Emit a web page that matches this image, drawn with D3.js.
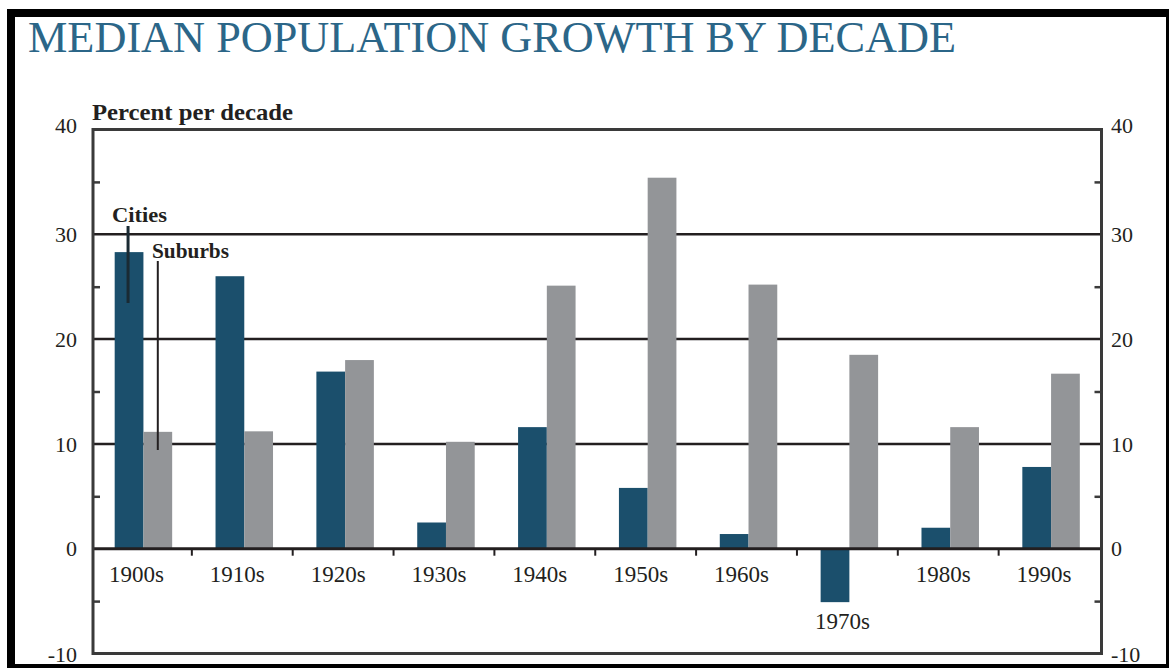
<!DOCTYPE html>
<html>
<head>
<meta charset="utf-8">
<script src="https://cdn.jsdelivr.net/npm/d3@7"></script>
<style>
  body { margin: 0; background: #fff; }
  svg text { font-family: "Liberation Serif", "DejaVu Serif", serif; }
</style>
</head>
<body>
<div id="chart"></div>
<script>
var decades  = ["1900s", "1910s", "1920s", "1930s", "1940s", "1950s", "1960s", "1970s", "1980s", "1990s"];
var cities   = [28.3, 26.0, 16.9, 2.5, 11.6, 5.8, 1.4, -5.1, 2.0, 7.8];
var suburbs  = [11.15, 11.2, 18.0, 10.2, 25.1, 35.4, 25.2, 18.5, 11.6, 16.7];
var yTicks   = [-10, 0, 10, 20, 30, 40];
var minorTicks = [-5, 5, 15, 25, 35];
var gridVals = [10, 20, 30];

var W = 1169, H = 668;
var teal = "#1b4f6c", grey = "#939598", ink = "#231f20";

var svg = d3.select("#chart")
  .append("svg")
    .attr("width", W)
    .attr("height", H);

// black frame round the whole picture
svg.append("rect").attr("x", 7).attr("y", 9).attr("width", W - 7).attr("height", H - 9).attr("fill", "#000");
svg.append("rect").attr("x", 15).attr("y", 17).attr("width", 1151).attr("height", 647).attr("fill", "#fff");

svg.append("text")
  .attr("x", 28).attr("y", 52)
  .attr("font-size", 45)
  .attr("textLength", 928)
  .attr("lengthAdjust", "spacingAndGlyphs")
  .attr("fill", "#2b6688")
  .text("MEDIAN POPULATION GROWTH BY DECADE");

var left = 93, right = 1101.5;

var x = d3.scaleBand()
  .domain(decades)
  .range([left, right])
  .paddingInner(0.43)
  .paddingOuter(0.215);

var x1 = d3.scaleBand()
  .domain(["Cities", "Suburbs"])
  .range([0, x.bandwidth()]);

var y = d3.scaleLinear()
  .domain([-10, 40])
  .range([653.5, 129.5]);

// gridlines behind bars
svg.selectAll(".grid")
  .data(gridVals)
  .enter().append("line")
    .attr("x1", left).attr("x2", right)
    .attr("y1", d => y(d)).attr("y2", d => y(d))
    .attr("stroke", ink)
    .attr("stroke-width", 2.5);

var rows = decades.map((d, i) => ({decade: d, Cities: cities[i], Suburbs: suburbs[i]}));

var groups = svg.selectAll(".grp")
  .data(rows)
  .enter().append("g")
    .attr("transform", d => "translate(" + x(d.decade) + ",0)");

groups.selectAll("rect")
  .data(d => ["Cities", "Suburbs"].map(k => ({key: k, value: d[k]})))
  .enter().append("rect")
    .attr("x", d => x1(d.key))
    .attr("width", x1.bandwidth())
    .attr("y", d => y(Math.max(0, d.value)))
    .attr("height", d => Math.abs(y(d.value) - y(0)))
    .attr("fill", d => d.key == "Cities" ? teal : grey);

// zero line and ticks between the decades
svg.append("line")
  .attr("x1", left).attr("x2", right)
  .attr("y1", y(0)).attr("y2", y(0))
  .attr("stroke", ink).attr("stroke-width", 3);

svg.selectAll(".sep")
  .data(decades.slice(1))
  .enter().append("line")
    .attr("x1", d => x(d) - x.step() * 0.215 - 2)
    .attr("x2", d => x(d) - x.step() * 0.215 - 2)
    .attr("y1", y(0)).attr("y2", y(0) + 7)
    .attr("stroke", ink).attr("stroke-width", 2);

// plot frame
svg.append("rect")
  .attr("x", left).attr("y", y(40))
  .attr("width", right - left).attr("height", y(-10) - y(40))
  .attr("fill", "none")
  .attr("stroke", "#3a3a3a")
  .attr("stroke-width", 3);

svg.append("g")
  .attr("transform", "translate(" + left + ",0)")
  .call(d3.axisRight(y).tickValues(minorTicks).tickSize(7).tickFormat(""))
  .call(g => g.select(".domain").remove())
  .selectAll("line").attr("stroke", "#3a3a3a").attr("stroke-width", 2.5);

svg.append("g")
  .attr("transform", "translate(" + right + ",0)")
  .call(d3.axisLeft(y).tickValues(minorTicks).tickSize(7).tickFormat(""))
  .call(g => g.select(".domain").remove())
  .selectAll("line").attr("stroke", "#3a3a3a").attr("stroke-width", 2.5);

// tick labels on both sides
function tickY(d) {
  if (d == 40) return y(d) - 4;
  if (d == -10) return y(d) + 1;
  return y(d);
}

svg.selectAll(".ylabL")
  .data(yTicks)
  .enter().append("text")
    .attr("x", 77)
    .attr("y", d => tickY(d))
    .attr("dy", "0.35em")
    .attr("text-anchor", "end")
    .attr("font-size", 22)
    .attr("fill", ink)
    .text(d => d);

svg.selectAll(".ylabR")
  .data(yTicks)
  .enter().append("text")
    .attr("x", 1111)
    .attr("y", d => tickY(d))
    .attr("dy", "0.35em")
    .attr("font-size", 22)
    .attr("fill", ink)
    .text(d => d);

// decade labels, pushed below a negative bar
svg.selectAll(".xlab")
  .data(rows)
  .enter().append("text")
    .attr("x", d => x(d.decade) + x.bandwidth() / 2 - 7)
    .attr("y", d => d.Cities < 0 ? y(d.Cities) + 27 : y(0) + 33)
    .attr("text-anchor", "middle")
    .attr("font-size", 23)
    .attr("fill", ink)
    .text(d => d.decade);

svg.append("text")
  .attr("x", 92).attr("y", 120)
  .attr("font-size", 23)
  .attr("font-weight", "bold")
  .attr("textLength", 201)
  .attr("lengthAdjust", "spacingAndGlyphs")
  .attr("fill", ink)
  .text("Percent per decade");

// series labels with leader lines
var cx = x(decades[0]) + x1("Cities") + x1.bandwidth() / 2;
var sx = x(decades[0]) + x1("Suburbs") + x1.bandwidth() / 2;

svg.append("line")
  .attr("x1", cx - 1).attr("x2", cx - 1)
  .attr("y1", 226).attr("y2", 303)
  .attr("stroke", "#1a2a33").attr("stroke-width", 3);

svg.append("line")
  .attr("x1", sx).attr("x2", sx)
  .attr("y1", 261).attr("y2", 450)
  .attr("stroke", ink).attr("stroke-width", 2);

svg.append("text")
  .attr("x", 112).attr("y", 222)
  .attr("font-size", 20)
  .attr("font-weight", "bold")
  .attr("textLength", 55)
  .attr("lengthAdjust", "spacingAndGlyphs")
  .attr("fill", ink)
  .text("Cities");

svg.append("text")
  .attr("x", 152).attr("y", 258)
  .attr("font-size", 20)
  .attr("font-weight", "bold")
  .attr("textLength", 77)
  .attr("lengthAdjust", "spacingAndGlyphs")
  .attr("fill", ink)
  .text("Suburbs");
</script>
</body>
</html>
